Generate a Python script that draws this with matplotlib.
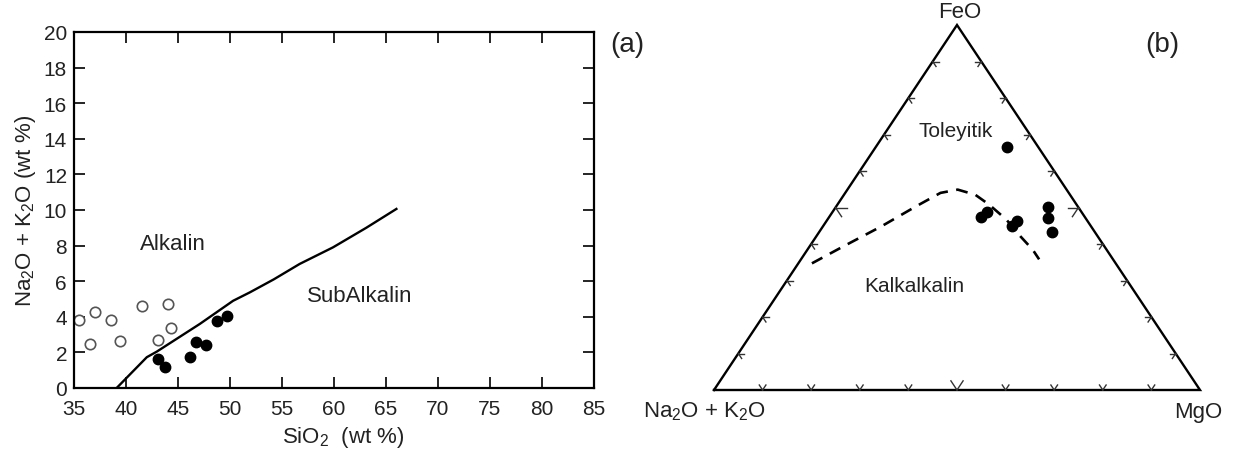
import numpy as np
import matplotlib
matplotlib.use("Agg")
import matplotlib.pyplot as plt

plt.rcParams['font.family'] = ['Liberation Sans', 'DejaVu Sans']
plt.rcParams['mathtext.fontset'] = 'custom'
plt.rcParams['mathtext.rm'] = 'Liberation Sans'
plt.rcParams['mathtext.it'] = 'Liberation Sans'

# --- panel (a) data: TAS
sio2_open = [35.5, 37.0, 38.6, 36.5, 39.4, 41.5, 44.0, 44.3, 43.1]
alk_open = [3.82, 4.29, 3.82, 2.47, 2.64, 4.62, 4.70, 3.39, 2.70]
sio2_fill = [43.1, 43.75, 46.2, 46.7, 47.7, 48.75, 49.7]
alk_fill = [1.63, 1.16, 1.72, 2.56, 2.42, 3.75, 4.03]
# alkaline / subalkaline boundary
line_sio2 = [39.1, 42.0, 42.95, 47.1, 48.7, 50.3, 51.9, 54.2, 56.7, 59.9, 63.1, 66.0]
line_alk = [0.0, 1.73, 2.04, 3.6, 4.25, 4.9, 5.37, 6.1, 6.97, 7.9, 9.0, 10.06]

# --- panel (b) data: AFM (percent)
afm_A = [6.4, 21.3, 19.3, 16.2, 14.6, 6.3, 7.7, 8.9]
afm_F = [66.5, 47.4, 48.9, 45.0, 46.2, 50.1, 47.1, 43.3]
afm_M = [27.1, 31.3, 31.8, 38.8, 39.2, 43.6, 45.2, 47.8]
bnd_A = [62.5, 53.8, 43.2, 33.3, 26.4, 22.4, 19.5, 18.0, 16.5, 15.9, 15.2, 15.2]
bnd_F = [34.7, 39.3, 44.8, 50.3, 54.0, 54.9, 53.5, 50.8, 46.7, 42.1, 38.4, 35.8]
bnd_M = [2.8, 6.9, 12.0, 16.4, 19.6, 22.7, 27.0, 31.2, 36.8, 42.0, 46.4, 49.0]

txt = '#222222'

fig = plt.figure(figsize=(12.34, 4.52), dpi=100)

# ----- (a)
ax = fig.add_axes([74/1234, 1-389/452, 520/1234, 356/452])
ax.plot(line_sio2, line_alk, '-', color='black', lw=1.7)
ax.plot(sio2_open, alk_open, 'o', ms=7.5, mfc='white', mec='#555555', mew=1.2, ls='none')
ax.plot(sio2_fill, alk_fill, 'o', ms=7.5, mfc='black', mec='black', ls='none')
ax.set_xlim(35, 85)
ax.set_ylim(0, 20)
ax.set_xticks(np.arange(35, 86, 5))
ax.set_yticks(np.arange(0, 21, 2))
ax.tick_params(direction='in', length=8, width=1.2, top=True, right=True,
               labelsize=15, labelcolor=txt)
ax.tick_params(axis='x', pad=8)
ax.tick_params(axis='y', pad=5)
for s in ax.spines.values():
    s.set_linewidth(1.6)
ax.set_xlabel(r'SiO$_2$  (wt %)', fontsize=16, color=txt)
ax.xaxis.set_label_coords(0.517, -0.1)
ax.set_ylabel(r'Na$_2$O + K$_2$O (wt %)', fontsize=16, color=txt, labelpad=4)
ax.text(44.5, 8.1, 'Alkalin', fontsize=16, color=txt, ha='center', va='center')
ax.text(62.5, 5.17, 'SubAlkalin', fontsize=16, color=txt, ha='center', va='center')
ax.text(88.2, 19.3, '(a)', fontsize=20, color=txt, ha='center', va='center', clip_on=False)

# ----- (b) AFM ternary
bx = fig.add_axes([714/1234, 1-391/452, 486/1234, 365/452])
bx.set_xlim(0, 1)
bx.set_ylim(0, 1)
bx.axis('off')

def tern(A, F, M):
    A, F, M = np.asarray(A), np.asarray(F), np.asarray(M)
    tot = A + F + M
    return M/tot + F/tot/2, F/tot

cA, cM, cF = np.array([0.0, 0.0]), np.array([1.0, 0.0]), np.array([0.5, 1.0])
tri = np.array([cA, cM, cF, cA])
bx.plot(tri[:, 0], tri[:, 1], '-', color='black', lw=1.7, clip_on=False,
        solid_joinstyle='miter')

# chevron ticks along each edge
W, H = 486, 365
def tick(p, d, L):
    d = np.array(d, float)
    dpx = d*[W, H]
    d = d*L/np.hypot(*dpx)
    bx.plot([p[0], p[0]+d[0]], [p[1], p[1]+d[1]], color='#333333', lw=1.0, clip_on=False)

edges = [(cA, cM, [(0.5, 1), (-0.5, 1)]),
         (cA, cF, [(1, 0), (0.5, -1)]),
         (cM, cF, [(-1, 0), (-0.5, -1)])]
for p0, p1, dirs in edges:
    for i in range(1, 10):
        p = p0 + (p1 - p0)*i/10
        L = 11 if i == 5 else 6
        for d in dirs:
            tick(p, d, L)

bx_, by_ = tern(bnd_A, bnd_F, bnd_M)
bx.plot(bx_, by_, color='black', lw=1.9, ls=(0, (4.5, 3.2)))
px, py = tern(afm_A, afm_F, afm_M)
bx.plot(px, py, 'o', ms=7.5, color='black', ls='none')

bx.text(0.505, 1.008, 'FeO', fontsize=16, color=txt, ha='center', va='bottom')
bx.text(-0.02, -0.058, r'Na$_2$O + K$_2$O', fontsize=16, color=txt, ha='center', va='center')
bx.text(0.996, -0.058, 'MgO', fontsize=16, color=txt, ha='center', va='center')
bx.text(0.922, 0.948, '(b)', fontsize=20, color=txt, ha='center', va='center')
bx.text(0.498, 0.71, 'Toleyitik', fontsize=15, color=txt, ha='center', va='center')
bx.text(0.412, 0.285, 'Kalkalkalin', fontsize=15, color=txt, ha='center', va='center')

fig.savefig('out.png', dpi=100)
